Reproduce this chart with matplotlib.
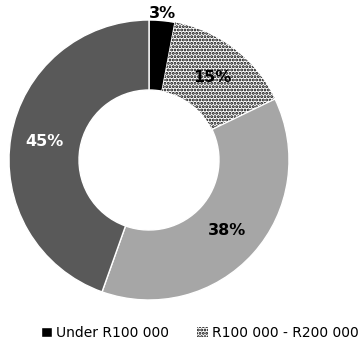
import numpy as np
import matplotlib.pyplot as plt

# income bands (only the first two are visible in the legend)
categories = ['Under R100 000', 'R100 000 - R200 000', 'R200 000 - R300 000', 'Over R300 000']
shares = [3, 15, 38, 45]
pct_labels = ['3%', '15%', '38%', '45%']
colors = ['#000000', '#ffffff', '#a6a6a6', '#595959']
label_colors = ['black', 'black', 'black', 'white']
label_dist = [1.05, 0.74, 0.75, 0.76]

plt.rcParams['hatch.linewidth'] = 1.4

fig = plt.figure(figsize=(3.6, 3.47), dpi=100)
ax = fig.add_axes([9 / 360, 47 / 347, 280 / 360, 280 / 347])

wedges, _ = ax.pie(shares, colors=colors, startangle=90, counterclock=False,
                   radius=1, wedgeprops=dict(width=0.5, edgecolor='white', linewidth=1))

# dotted fill for second band
wedges[1].set_hatch('.....')
wedges[1].set_edgecolor('black')
wedges[1].set_linewidth(0)

for w, txt, c, d in zip(wedges, pct_labels, label_colors, label_dist):
    ang = np.deg2rad((w.theta1 + w.theta2) / 2)
    ax.text(d * np.cos(ang), d * np.sin(ang), txt, ha='center', va='center',
            fontsize=11.5, fontweight='bold', color=c, family='DejaVu Sans')

ax.set_xlim(-1, 1)
ax.set_ylim(-1, 1)

fig.legend(wedges[:2], categories[:2], loc='center', ncol=2,
           bbox_to_anchor=(0.555, 1 - 333 / 347), frameon=False,
           fontsize=10, handlelength=0.8, handleheight=0.8,
           handletextpad=0.3, columnspacing=2.0)

fig.savefig('out.png', dpi=100)
